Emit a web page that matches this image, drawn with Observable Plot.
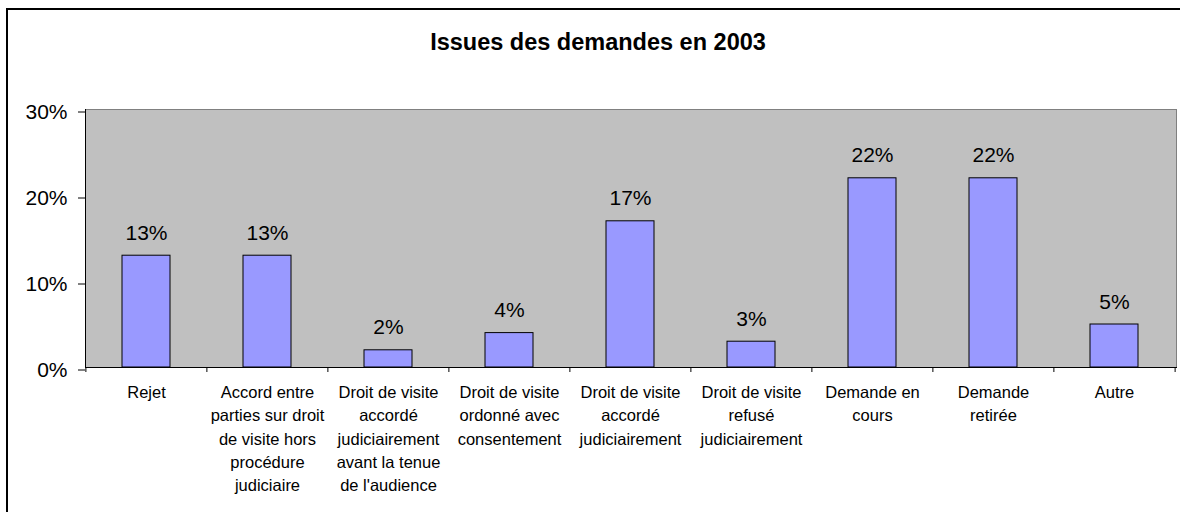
<!DOCTYPE html>
<html><head><meta charset="utf-8">
<script src="https://cdn.jsdelivr.net/npm/d3@7"></script>
<script src="https://cdn.jsdelivr.net/npm/@observablehq/plot@0.6"></script>
<style>
body{margin:0;background:#fff;}
#wrap{position:relative;width:1180px;height:512px;overflow:hidden;font-family:"Liberation Sans",Arial,sans-serif;background:#fff;}
#border{position:absolute;left:6px;top:8px;width:1300px;height:600px;border-top:2px solid #000;border-left:2px solid #000;}
#title{position:absolute;left:0;top:0;width:1196px;height:80px;text-align:center;font-weight:bold;font-size:23.5px;line-height:23.5px;padding-top:31px;box-sizing:border-box;color:#000;}
#chart{position:absolute;left:0;top:80px;}
</style></head><body>
<div id="wrap"><div id="border"></div><div id="title">Issues des demandes en 2003</div><div id="chart"></div></div>
<script>
const categories = [
  "Rejet",
  "Accord entre\nparties sur droit\nde visite hors\nprocédure\njudiciaire",
  "Droit de visite\naccordé\njudiciairement\navant la tenue\nde l'audience",
  "Droit de visite\nordonné avec\nconsentement",
  "Droit de visite\naccordé\njudiciairement",
  "Droit de visite\nrefusé\njudiciairement",
  "Demande en\ncours",
  "Demande\nretirée",
  "Autre"
];
const values = [0.13, 0.13, 0.02, 0.04, 0.17, 0.03, 0.22, 0.22, 0.05];
const yTicks = [0, 0.1, 0.2, 0.3];

const data = categories.map((c, i) => ({category: c, value: values[i]}));
const pct = d3.format(".0%");
const W = 1180, H = 432, mL = 85, mR = 4, mT = 29, mB = 145;
const step = (W - mL - mR) / categories.length;
const font = "'Liberation Sans', Arial, sans-serif";

const plot = Plot.plot({
  width: W, height: H,
  marginLeft: mL, marginRight: mR, marginTop: mT, marginBottom: mB,
  style: {fontFamily: font, background: "transparent", color: "#000", overflow: "visible"},
  x: {domain: categories, paddingInner: 0.6, paddingOuter: 0.3, axis: null},
  y: {domain: [0, 0.3], axis: null},
  marks: [
    Plot.frame({fill: "#c0c0c0", stroke: "#808080"}),
    Plot.barY(data, {x: "category", y: "value", fill: "#9999ff", stroke: "#000", strokeWidth: 1}),
    Plot.frame({anchor: "left", stroke: "#000"}),
    Plot.frame({anchor: "bottom", stroke: "#000"}),
    Plot.axisY({ticks: yTicks, tickFormat: pct, tickSize: 7, tickPadding: 11, fontSize: 21, dy: 2.5, stroke: "#000", label: null}),
    Plot.axisX({tickSize: 5, tickFormat: () => "", dx: -step / 2, stroke: "#000", label: null}),
    Plot.axisX({ticks: [categories[categories.length - 1]], tickSize: 5, tickFormat: () => "", dx: step / 2, stroke: "#000", label: null}),
    Plot.text(data, {x: "category", y: "value", text: d => pct(d.value), lineAnchor: "bottom", dy: -16, fontSize: 21, fill: "#000"}),
    Plot.text(data, {x: "category", text: "category", frameAnchor: "bottom", lineAnchor: "top", dy: 14, fontSize: 16.5, lineHeight: 1.41, fill: "#000"})
  ]
});
document.getElementById("chart").appendChild(plot);
</script>
</body></html>
